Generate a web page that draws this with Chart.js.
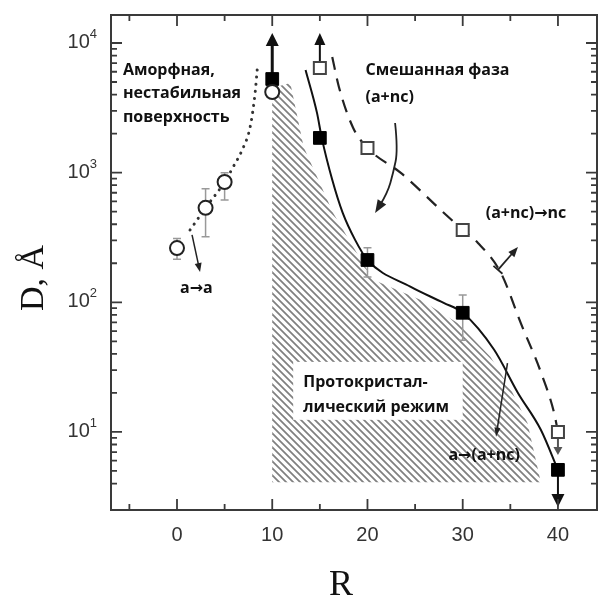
<!DOCTYPE html>
<html>
<head>
<meta charset="utf-8">
<script src="https://cdn.jsdelivr.net/npm/chart.js@4.4.0/dist/chart.umd.min.js"></script>
<style>
html, body { margin: 0; padding: 0; background: #fff; overflow: hidden; }
#wrap { width: 598px; height: 598px; position: relative; }
canvas { display: block; }
</style>
</head>
<body>
<div id="wrap"><canvas id="chart"></canvas></div>
<script>
// amorphous films (open circles)
const amorphR = [0, 3, 5, 10]
const amorphD = [262, 535, 847, 4190]
// protocrystalline -> mixed (filled squares)
const protoR = [10, 15, 20, 30, 40]
const protoD = [5275, 1853, 212, 83, 5.1]
// mixed -> nc (open squares)
const mixedR = [15, 20, 30, 40]
const mixedD = [6410, 1550, 361, 10]

// guide curves
const dottedR = [1.37, 3, 5, 5.9, 6.84, 7.68, 8.2, 8.42]
const dottedD = [361, 535, 847, 1107, 1496, 2249, 4110, 6190]
const solidR = [13.5, 14.7, 15.2, 16.3, 17.4, 18.7, 20, 24.5, 28, 30, 33.3, 35.8, 38.2, 40]
const solidD = [6190, 2890, 1853, 880, 489, 303, 212, 132, 99, 83, 43, 20, 10.4, 5.1]
const dashR = [16.3, 17, 18.5, 20, 23.5, 27.7, 30, 31.6, 34, 36.1, 38.2, 39.6, 40]
const dashD = [7800, 4580, 2213, 1550, 995, 515, 361, 287, 169, 69, 29, 14, 10]

// error bars
const errR = [0, 3, 5, 20, 30]
const errLo = [215, 320, 616, 157, 51]
const errHi = [310, 750, 1000, 263, 114]

// limit arrows (from value to arrow tip)
const limitR = [10, 15, 40, 40]
const limitFrom = [5275, 6410, 10, 5.1]
const limitTo = [11940, 11940, 6.65, 2.64]

// hatched protocrystalline region
const hatchR = [10, 10, 11.9, 13.3, 16.4, 18.5, 20.6, 25.6, 29.5, 32.9, 35.1, 36.8, 38.2]
const hatchD = [4.1, 4500, 4920, 1578, 489, 267, 149, 104, 69, 38, 21, 11.7, 4.1]

// axis labels
const xLabels = [0, 10, 20, 30, 40]
const yMajor = [1, 2, 3, 4]

const notes = [
    { text: 'Аморфная,', r: -5.68, d: 5664 },
    { text: 'нестабильная', r: -5.68, d: 3770 },
    { text: 'поверхность', r: -5.68, d: 2462 },
    { text: 'Смешанная фаза', r: 19.79, d: 5664 },
    { text: '(a+nc)', r: 19.79, d: 3510 },
    { text: '(a+nc)→nc', r: 32.42, d: 448 },
    { text: 'a→(a+nc)', r: 28.5, d: 6.08 },
    { text: 'a→a', r: 0.32, d: 118 }
]
const boxNote = { lines: ['Протокристал-', 'лический режим'], r: 13.26, d: [22.2, 14.3], box: [12.2, 30.0, 34.7, 12.4] }

// annotation arrows, [r, d] points, last point is the tip
const noteArrows = [
    { pts: [[1.58, 331], [2.42, 171]], w: 1.5, head: [9, 7] },
    { pts: [[22.9, 2416], [23.2, 1496], [22.7, 995], [22.1, 697], [20.8, 489]], w: 1.8, head: [13, 10] },
    { pts: [[33.7, 178], [35.8, 267]], w: 1.8, head: [10, 8], tee: true },
    { pts: [[34.7, 34], [33.5, 9.2]], w: 1.5, head: [9, 6] }
]

const noteFont = 'bold 16px "Open Sans", "DejaVu Sans", sans-serif'

const pts = (xs, ys) => xs.map((x, i) => ({ x: x, y: ys[i] }))

function head(ctx, x1, y1, x2, y2, len, wid) {
    const a = Math.atan2(y2 - y1, x2 - x1)
    const c = Math.cos(a), s = Math.sin(a)
    ctx.beginPath()
    ctx.moveTo(x2, y2)
    ctx.lineTo(x2 - len * c + wid / 2 * s, y2 - len * s - wid / 2 * c)
    ctx.lineTo(x2 - len * c - wid / 2 * s, y2 - len * s + wid / 2 * c)
    ctx.closePath()
    ctx.fill()
}

const decor = {
    id: 'decor',
    beforeDatasetsDraw(chart) {
        const ctx = chart.ctx
        const xs = chart.scales.x, ys = chart.scales.y
        const { left, right, top, bottom } = chart.chartArea
        ctx.save()
        // hatch
        ctx.save()
        ctx.beginPath()
        hatchR.forEach((r, i) => {
            const X = xs.getPixelForValue(r), Y = ys.getPixelForValue(hatchD[i])
            if (i) ctx.lineTo(X, Y); else ctx.moveTo(X, Y)
        })
        ctx.closePath()
        ctx.clip()
        ctx.strokeStyle = '#808080'
        ctx.lineWidth = 1.8
        const h = bottom - top
        for (let s = left - h; s < right; s += 7) {
            ctx.beginPath()
            ctx.moveTo(s, top)
            ctx.lineTo(s + h, bottom)
            ctx.stroke()
        }
        ctx.restore()

        // white box + text
        const b = boxNote.box
        const bx1 = xs.getPixelForValue(b[0]), bx2 = xs.getPixelForValue(b[1])
        const by1 = ys.getPixelForValue(b[2]), by2 = ys.getPixelForValue(b[3])
        ctx.fillStyle = '#fff'
        ctx.fillRect(bx1, by1, bx2 - bx1, by2 - by1)
        ctx.fillStyle = '#111'
        ctx.font = noteFont
        ctx.textAlign = 'left'
        ctx.textBaseline = 'alphabetic'
        boxNote.lines.forEach((t, i) => {
            ctx.fillText(t, xs.getPixelForValue(boxNote.r), ys.getPixelForValue(boxNote.d[i]))
        })

        // error bars
        ctx.strokeStyle = '#999'
        ctx.lineWidth = 1.5
        errR.forEach((r, i) => {
            const X = xs.getPixelForValue(r)
            const Y1 = ys.getPixelForValue(errLo[i]), Y2 = ys.getPixelForValue(errHi[i])
            ctx.beginPath()
            ctx.moveTo(X, Y1); ctx.lineTo(X, Y2)
            ctx.moveTo(X - 4, Y1); ctx.lineTo(X + 4, Y1)
            ctx.moveTo(X - 4, Y2); ctx.lineTo(X + 4, Y2)
            ctx.stroke()
        })

        // limit arrows
        limitR.forEach((r, i) => {
            const X = xs.getPixelForValue(r)
            const Y1 = ys.getPixelForValue(limitFrom[i]), Y2 = ys.getPixelForValue(limitTo[i])
            const big = i === 0 || i === 3
            const len = big ? 13 : (i === 2 ? 8 : 12)
            const wid = big ? 13 : (i === 2 ? 9 : 11)
            const dir = Y2 < Y1 ? 1 : -1
            ctx.strokeStyle = i === 2 ? '#555' : '#111'
            ctx.fillStyle = ctx.strokeStyle
            ctx.lineWidth = i === 0 ? 3 : 2
            ctx.beginPath()
            ctx.moveTo(X, Y1)
            ctx.lineTo(X, Y2 + dir * len * 0.7)
            ctx.stroke()
            head(ctx, X, Y1, X, Y2, len, wid)
        })
        ctx.restore()
    },
    afterDatasetsDraw(chart) {
        const ctx = chart.ctx
        const xs = chart.scales.x, ys = chart.scales.y
        const { left, right, top, bottom } = chart.chartArea
        ctx.save()

        // annotation arrows
        ctx.strokeStyle = '#222'
        ctx.fillStyle = '#222'
        noteArrows.forEach(a => {
            const p = a.pts.map(q => [xs.getPixelForValue(q[0]), ys.getPixelForValue(q[1])])
            const n = p.length
            const [hl, hw] = a.head
            const ang = Math.atan2(p[n - 1][1] - p[n - 2][1], p[n - 1][0] - p[n - 2][0])
            const end = [p[n - 1][0] - hl * 0.7 * Math.cos(ang), p[n - 1][1] - hl * 0.7 * Math.sin(ang)]
            ctx.lineWidth = a.w
            ctx.beginPath()
            ctx.moveTo(p[0][0], p[0][1])
            if (n === 2) {
                ctx.lineTo(end[0], end[1])
            } else {
                for (let i = 1; i < n - 1; i++) {
                    const mx = (p[i][0] + p[i + 1][0]) / 2, my = (p[i][1] + p[i + 1][1]) / 2
                    if (i === n - 2) ctx.quadraticCurveTo(p[i][0], p[i][1], end[0], end[1])
                    else ctx.quadraticCurveTo(p[i][0], p[i][1], mx, my)
                }
            }
            ctx.stroke()
            head(ctx, p[n - 2][0], p[n - 2][1], p[n - 1][0], p[n - 1][1], hl, hw)
            if (a.tee) {
                const c = Math.cos(ang), s = Math.sin(ang)
                ctx.beginPath()
                ctx.moveTo(p[0][0] - 6 * s, p[0][1] + 6 * c)
                ctx.lineTo(p[0][0] + 6 * s, p[0][1] - 6 * c)
                ctx.stroke()
            }
        })

        // notes
        ctx.fillStyle = '#111'
        ctx.font = noteFont
        ctx.textAlign = 'left'
        ctx.textBaseline = 'alphabetic'
        notes.forEach(n => ctx.fillText(n.text, xs.getPixelForValue(n.r), ys.getPixelForValue(n.d)))

        // frame
        ctx.strokeStyle = '#3a3a3a'
        ctx.lineWidth = 2
        ctx.strokeRect(left, top, right - left, bottom - top)

        // inward ticks
        ctx.lineWidth = 1.8
        ctx.beginPath()
        xs.ticks.forEach(t => {
            const v = t.value
            if (Math.abs(v / 5 - Math.round(v / 5)) > 1e-6) return
            const X = xs.getPixelForValue(v)
            const len = Math.round(v / 5) % 2 === 0 ? 11 : 6
            ctx.moveTo(X, bottom); ctx.lineTo(X, bottom - len)
            ctx.moveTo(X, top); ctx.lineTo(X, top + len)
        })
        ys.ticks.forEach(t => {
            const v = t.value
            const e = Math.floor(Math.log10(v) + 1e-9)
            const m = v / Math.pow(10, e)
            if (Math.abs(m - Math.round(m)) > 1e-6) return
            const Y = ys.getPixelForValue(v)
            const len = Math.round(m) === 1 ? 11 : 6
            ctx.moveTo(left, Y); ctx.lineTo(left + len, Y)
            ctx.moveTo(right, Y); ctx.lineTo(right - len, Y)
        })
        ctx.stroke()

        // x tick labels
        ctx.fillStyle = '#333'
        ctx.font = '20px "Liberation Sans"'
        ctx.textAlign = 'center'
        xLabels.forEach(v => ctx.fillText(String(v), xs.getPixelForValue(v), bottom + 31))

        // y tick labels 10^n
        ctx.textAlign = 'left'
        yMajor.forEach(e => {
            const Y = ys.getPixelForValue(Math.pow(10, e))
            ctx.font = '20px "Liberation Sans"'
            const w10 = ctx.measureText('10').width
            ctx.font = '13px "Liberation Sans"'
            const we = ctx.measureText(String(e)).width
            const x0 = left - 14 - we - w10
            ctx.font = '20px "Liberation Sans"'
            ctx.fillText('10', x0, Y + 5)
            ctx.font = '13px "Liberation Sans"'
            ctx.fillText(String(e), x0 + w10, Y - 5)
        })

        // axis titles
        ctx.fillStyle = '#111'
        ctx.font = '36px "Liberation Serif"'
        ctx.textAlign = 'center'
        ctx.fillText('R', 341, 595)
        ctx.save()
        ctx.translate(43, 278)
        ctx.rotate(-Math.PI / 2)
        ctx.font = '34px "Liberation Serif"'
        ctx.fillText('D, Å', 0, 0)
        ctx.restore()

        ctx.restore()
    }
}

new Chart(document.getElementById('chart'), {
    type: 'scatter',
    data: {
        datasets: [
            {
                data: pts(amorphR, amorphD),
                pointStyle: 'circle', pointRadius: 7, pointBorderWidth: 2,
                pointBackgroundColor: '#fff', pointBorderColor: '#222'
            },
            {
                data: pts(protoR, protoD),
                pointStyle: 'rect', pointRadius: 9, pointBorderWidth: 1,
                pointBackgroundColor: '#000', pointBorderColor: '#000'
            },
            {
                data: pts(mixedR, mixedD),
                pointStyle: 'rect', pointRadius: 8.5, pointBorderWidth: 2,
                pointBackgroundColor: '#fff', pointBorderColor: '#444'
            },
            {
                data: pts(dottedR, dottedD),
                showLine: true, pointRadius: 0, borderColor: '#333', borderWidth: 3,
                borderDash: [0.1, 7], borderCapStyle: 'round', cubicInterpolationMode: 'monotone'
            },
            {
                data: pts(solidR, solidD),
                showLine: true, pointRadius: 0, borderColor: '#111', borderWidth: 2,
                cubicInterpolationMode: 'monotone'
            },
            {
                data: pts(dashR, dashD),
                showLine: true, pointRadius: 0, borderColor: '#222', borderWidth: 2.2,
                borderDash: [13, 9], cubicInterpolationMode: 'monotone'
            }
        ]
    },
    options: {
        responsive: true,
        maintainAspectRatio: false,
        animation: false,
        layout: { autoPadding: false, padding: { top: 15, right: 1, left: 0, bottom: 0 } },
        plugins: { legend: { display: false }, tooltip: { enabled: false } },
        scales: {
            x: {
                type: 'linear',
                min: -6.93,
                max: 44.1,
                grid: { display: false },
                border: { display: false },
                ticks: { display: false, stepSize: 5, includeBounds: false, autoSkip: false },
                afterFit: s => { s.height = 88 }
            },
            y: {
                type: 'logarithmic',
                min: 2.5,
                max: 16440,
                grid: { display: false },
                border: { display: false },
                ticks: { display: false, autoSkip: false },
                afterFit: s => { s.width = 111 }
            }
        }
    },
    plugins: [decor]
})
</script>
</body>
</html>
